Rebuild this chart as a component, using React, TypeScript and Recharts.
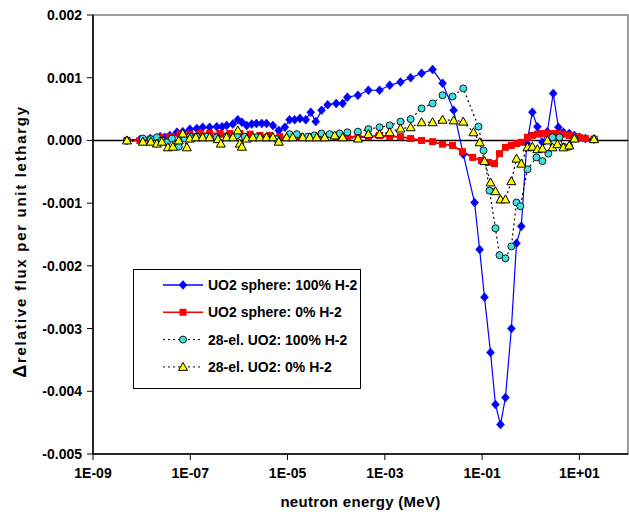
import React from 'react';
import { LineChart, Line, XAxis, YAxis, ReferenceLine, ReferenceArea, Legend } from 'recharts';

// [neutron energy (MeV), delta relative flux per unit lethargy]
const sphere100: [number, number][] = [
  [5.0e-9, 0], [9.2e-9, 0.000016], [1.5e-8, 0.00003], [2.4e-8, 0.00006], [3.0e-8, 0.00005],
  [3.8e-8, 0.00008], [5.3e-8, 0.00013], [7.0e-8, 0.00014], [9.8e-8, 0.00018], [1.36e-7, 0.00019],
  [1.8e-7, 0.00021], [2.5e-7, 0.00021], [3.5e-7, 0.00022], [4.5e-7, 0.00022], [5.6e-7, 0.00024],
  [7.5e-7, 0.00026], [9.5e-7, 0.00033], [1.15e-6, 0.00029], [1.45e-6, 0.00024], [1.84e-6, 0.00026],
  [2.3e-6, 0.00027], [2.95e-6, 0.00027], [3.7e-6, 0.00027], [5.0e-6, 0.00024], [6.6e-6, 0.00016],
  [8.8e-6, 0.00021], [1.1e-5, 0.00033], [1.4e-5, 0.00033], [1.8e-5, 0.00035], [2.37e-5, 0.00033],
  [3.0e-5, 0.00045], [3.8e-5, 0.0003], [5.0e-5, 0.00048], [6.7e-5, 0.00057], [1.0e-4, 0.00059],
  [1.36e-4, 0.00059], [1.7e-4, 0.00069], [2.8e-4, 0.00072], [4.6e-4, 0.0008], [7.8e-4, 0.0008],
  [1.26e-3, 0.00088], [2.1e-3, 0.00093], [3.4e-3, 0.001], [5.7e-3, 0.00107], [9.6e-3, 0.00113],
  [1.54e-2, 0.00091], [2.6e-2, 0.00048], [4.1e-2, -0.00022], [7.0e-2, -0.00099], [8.9e-2, -0.00174],
  [0.112, -0.0025], [0.149, -0.00338], [0.188, -0.00421], [0.239, -0.00453], [0.302, -0.0041],
  [0.40, -0.003], [0.51, -0.00164], [0.64, -0.00137], [0.83, -0.00005], [1.08, 0.00045],
  [1.37, 0.00022], [1.74, -0.00003], [2.2, 0.00014], [2.9, 0.00075], [3.7, 0.00021],
  [4.7, 0.00013], [6.2, 0.00011], [7.9, 0.00008], [10, 0.00005], [13.3, 0.00003], [20, 0.00002],
];

const sphere0: [number, number][] = [
  [5.0e-9, 0], [9.2e-9, 0], [1.5e-8, 0.00002], [2.4e-8, 0.00005], [3.8e-8, 0.00006],
  [6.1e-8, 0.0001], [9.8e-8, 0.0001], [1.6e-7, 0.00011], [2.5e-7, 0.00011], [4.1e-7, 0.00011],
  [6.5e-7, 0.00011], [1.04e-6, 0.00011], [1.7e-6, 0.0001], [2.7e-6, 0.00008], [4.3e-6, 0.00008],
  [6.9e-6, 0.00006], [1.1e-5, 0.00006], [1.8e-5, 0.00006], [3.0e-5, 0.00006], [5.0e-5, 0.00006],
  [1.0e-4, 0.00006], [1.7e-4, 0.00006], [2.8e-4, 0.00006], [4.6e-4, 0.00006], [7.8e-4, 0.00008],
  [1.26e-3, 0.00006], [2.1e-3, 0.00006], [3.4e-3, 0.00003], [5.7e-3, 0], [9.6e-3, -0.00002],
  [1.54e-2, -0.00006], [2.47e-2, -0.00008], [3.95e-2, -0.00018], [6.4e-2, -0.00027], [9.7e-2, -0.00032],
  [0.135, -0.00035], [0.18, -0.00037], [0.228, -0.00021], [0.302, -0.00011], [0.40, -0.00008],
  [0.51, -0.00005], [0.64, -0.00003], [0.86, 0.00005], [1.08, 0.00008], [1.37, 0.0001],
  [1.74, 0.00011], [2.42, 0.00011], [3.37, 0.00011], [4.48, 0.0001], [6.2, 0.00008],
  [7.9, 0.00006], [10, 0.00005], [13.3, 0.00003], [20, 0.00002],
];

const el28h100: [number, number][] = [
  [5.0e-9, 0], [1.06e-8, 0.00003], [1.55e-8, 0.00002], [2.06e-8, 0.00005], [2.6e-8, 0],
  [3.3e-8, -0.00003], [4.2e-8, 0.00003], [5.8e-8, -0.0001], [7.7e-8, 0.00003], [9.8e-8, 0.00006],
  [1.36e-7, 0.00006], [2.2e-7, 0.00006], [3.5e-7, 0.00005], [5.6e-7, 0.00006], [9.1e-7, 0.00008],
  [1.32e-6, 0.00006], [2.3e-6, 0.00005], [3.7e-6, 0.00005], [6.0e-6, 0.00002], [1.1e-5, 0.0001],
  [1.55e-5, 0.0001], [2.6e-5, 0.00006], [3.6e-5, 0.00008], [5.0e-5, 0.00011], [7.3e-5, 0.0001],
  [1.18e-4, 0.00011], [1.7e-4, 0.00013], [2.8e-4, 0.00014], [4.6e-4, 0.00018], [7.8e-4, 0.00021],
  [1.26e-3, 0.00024], [2.1e-3, 0.0003], [3.4e-3, 0.00034], [5.7e-3, 0.00051], [9.6e-3, 0.00059],
  [1.54e-2, 0.00072], [2.47e-2, 0.0007], [4.1e-2, 0.00083], [8.4e-2, 0.00022], [0.107, -0.00016],
  [0.142, -0.0008], [0.188, -0.0014], [0.228, -0.00183], [0.302, -0.00188], [0.40, -0.00169],
  [0.51, -0.00099], [0.61, -0.00105], [0.86, -0.00046], [1.31, -0.00027], [1.74, -0.00033],
  [2.3, -0.00021], [2.8, 0.00005], [3.9, 0.00005], [4.7, -0.0001], [6.2, -0.0001],
  [7.9, 0.00003], [20, 0.00002],
];

const el28h0: [number, number][] = [
  [5.0e-9, 0], [1.06e-8, -0.00002], [1.55e-8, -0.00002], [2.06e-8, -0.00005], [2.6e-8, -0.00002],
  [3.47e-8, -0.00011], [4.4e-8, -0.0001], [5.8e-8, 0], [7.0e-8, 0.00011], [8.5e-8, -0.00011],
  [9.8e-8, 0.00003], [1.3e-7, 0.00005], [1.8e-7, 0.00005], [2.5e-7, 0.00005], [3.7e-7, 0.00002],
  [4.25e-7, -0.00005], [5.6e-7, 0.00005], [7.5e-7, 0.00005], [9.5e-7, 0.00016], [1.04e-6, -0.00005],
  [1.15e-6, -0.0001], [1.45e-6, 0.00003], [1.93e-6, 0.00005], [2.7e-6, 0.00005], [3.7e-6, 0.00005],
  [5.0e-6, 0.00005], [6.6e-6, -0.00002], [9.6e-6, 0.00005], [1.28e-5, 0.00005], [2.05e-5, 0.00005],
  [2.86e-5, 0.00005], [3.98e-5, 0.00005], [5.8e-5, 0.00005], [9.3e-5, 0.00008], [1.36e-4, 0.00005],
  [2.8e-4, 0.00003], [4.6e-4, 0.0001], [7.8e-4, 0.0001], [1.26e-3, 0.00013], [2.1e-3, 0.00019],
  [3.4e-3, 0.00021], [5.7e-3, 0.00029], [9.6e-3, 0.00029], [1.54e-2, 0.00033], [2.6e-2, 0.00032],
  [4.1e-2, 0.0003], [6.65e-2, 0.00013], [8.9e-2, -0.00003], [0.112, -0.00033], [0.149, -0.00067],
  [0.188, -0.00081], [0.239, -0.00094], [0.302, -0.00094], [0.40, -0.00065], [0.51, -0.00029],
  [0.64, -0.00037], [0.86, -0.00011], [1.08, -0.0001], [1.37, -0.00014], [1.74, -0.00013],
  [2.2, 0], [2.8, -0.00011], [3.53, -0.00006], [4.7, -0.00011], [6.2, -0.00008],
  [7.9, 0.00003], [20, 0.00002],
];

const xTicks = [1e-9, 1e-7, 1e-5, 1e-3, 1e-1, 1e1];
const yTicks = [-0.005, -0.004, -0.003, -0.002, -0.001, 0, 0.001, 0.002];

const seriesNames = [
  'UO2 sphere: 100% H-2',
  'UO2 sphere: 0% H-2',
  '28-el. UO2: 100% H-2',
  '28-el. UO2: 0% H-2',
];

const FONT = '"Liberation Sans", Arial, sans-serif';

const toPoints = (rows: [number, number][]) => rows.map(([x, y]) => ({ x, y }));

const fmtE = (v: number) => {
  const e = Math.round(Math.log10(v));
  return `1E${e < 0 ? '-' : '+'}${String(Math.abs(e)).padStart(2, '0')}`;
};

const Diamond = ({ cx, cy }: any) => (
  <polygon points={`${cx},${cy - 4.5} ${cx + 4},${cy} ${cx},${cy + 4.5} ${cx - 4},${cy}`} fill="#0000FF" stroke="#0000FF" strokeWidth={0.5} />
);
const Square = ({ cx, cy }: any) => <rect x={cx - 3.5} y={cy - 3.5} width={7} height={7} fill="#FF0000" />;
const Circle = ({ cx, cy }: any) => <circle cx={cx} cy={cy} r={3.5} fill="#3FE0E0" stroke="#1a1a1a" strokeWidth={1} />;
const Triangle = ({ cx, cy }: any) => (
  <polygon points={`${cx},${cy - 4.5} ${cx + 4.5},${cy + 3.5} ${cx - 4.5},${cy + 3.5}`} fill="#FFFF00" stroke="#000" strokeWidth={1} />
);

const dotFn = (Shape: any) => (props: any) => {
  if (props.cx == null || props.cy == null) return <g key={props.index} />;
  return <Shape key={props.index} cx={props.cx} cy={props.cy} />;
};

const legendRows = [
  { name: seriesNames[0], stroke: '#0000FF', dash: undefined, Mark: Diamond },
  { name: seriesNames[1], stroke: '#FF0000', dash: undefined, Mark: Square },
  { name: seriesNames[2], stroke: '#000', dash: '2 3', Mark: Circle },
  { name: seriesNames[3], stroke: '#000', dash: '2 3', Mark: Triangle },
];

const LegendBox = () => (
  <svg width={228} height={120} style={{ display: 'block' }}>
    <rect x={0.5} y={0.5} width={227} height={119} fill="#fff" stroke="#000" />
    {legendRows.map((r, i) => {
      const cy = 16 + i * 27.3;
      return (
        <g key={r.name}>
          <line x1={30} x2={70} y1={cy} y2={cy} stroke={r.stroke} strokeWidth={r.dash ? 1 : 1.5} strokeDasharray={r.dash} />
          <r.Mark cx={50} cy={cy} />
          <text x={75} y={cy + 5} fontFamily={FONT} fontWeight="bold" fontSize={14} fill="#000">{r.name}</text>
        </g>
      );
    })}
  </svg>
);

const YTitle = ({ viewBox }: any) => {
  const cy = viewBox.y + viewBox.height / 2;
  return (
    <text transform={`translate(26,${cy + 7}) rotate(-90)`} textAnchor="middle" fontFamily={FONT} fontWeight="bold" fontSize={15} letterSpacing={1.7} fill="#000">
      <tspan fontSize={18}>Δ</tspan>relative flux per unit lethargy
    </text>
  );
};

const XTitle = ({ viewBox }: any) => (
  <text x={viewBox.x + viewBox.width / 2} y={viewBox.y + 53} textAnchor="middle" fontFamily={FONT} fontWeight="bold" fontSize={15} letterSpacing={0.3} fill="#000">
    neutron energy (MeV)
  </text>
);

const tickStyle = { fontFamily: FONT, fontWeight: 'bold', fontSize: 14, fill: '#000' };

export default function App() {
  return (
    <div style={{ position: 'absolute', left: 0, top: 0, background: '#fff' }}>
      <LineChart width={629} height={519} margin={{ top: 15, right: 1, bottom: 0, left: 0 }}>
        <ReferenceArea x1={1e-9} x2={100} y1={-0.005} y2={0.002} fill="none" stroke="#7f7f7f" strokeWidth={1.5} ifOverflow="visible" />
        <XAxis
          type="number"
          dataKey="x"
          scale="log"
          domain={[1e-9, 100]}
          ticks={xTicks}
          interval={0}
          allowDataOverflow
          tickFormatter={fmtE}
          height={65}
          tick={tickStyle}
          tickSize={6}
          tickMargin={8}
          stroke="#000"
          axisLine={{ stroke: '#000', strokeWidth: 1.5 }}
          label={{ content: XTitle }}
        />
        <YAxis
          type="number"
          dataKey="y"
          domain={[-0.005, 0.002]}
          ticks={yTicks}
          interval={0}
          allowDataOverflow
          tickFormatter={(v: number) => v.toFixed(3)}
          width={93}
          tick={tickStyle}
          tickSize={6}
          tickMargin={5}
          stroke="#000"
          axisLine={{ stroke: '#000', strokeWidth: 1.5 }}
          label={{ content: YTitle }}
        />
        <ReferenceLine y={0} stroke="#000" strokeWidth={1.5} />
        <Line data={toPoints(sphere100)} dataKey="y" name={seriesNames[0]} stroke="#0000FF" strokeWidth={1.2} dot={dotFn(Diamond)} isAnimationActive={false} />
        <Line data={toPoints(sphere0)} dataKey="y" name={seriesNames[1]} stroke="#FF0000" strokeWidth={2} dot={dotFn(Square)} isAnimationActive={false} />
        <Line data={toPoints(el28h100)} dataKey="y" name={seriesNames[2]} stroke="#000" strokeWidth={1.2} strokeDasharray="2 3" dot={dotFn(Circle)} isAnimationActive={false} />
        <Line data={toPoints(el28h0)} dataKey="y" name={seriesNames[3]} stroke="#000" strokeWidth={1.2} strokeDasharray="2 3" dot={dotFn(Triangle)} isAnimationActive={false} />
        <Legend
          layout="vertical"
          align="center"
          verticalAlign="middle"
          content={LegendBox}
          wrapperStyle={{ position: 'absolute', left: 133, top: 269, width: 228, height: 120 }}
        />
      </LineChart>
    </div>
  );
}
